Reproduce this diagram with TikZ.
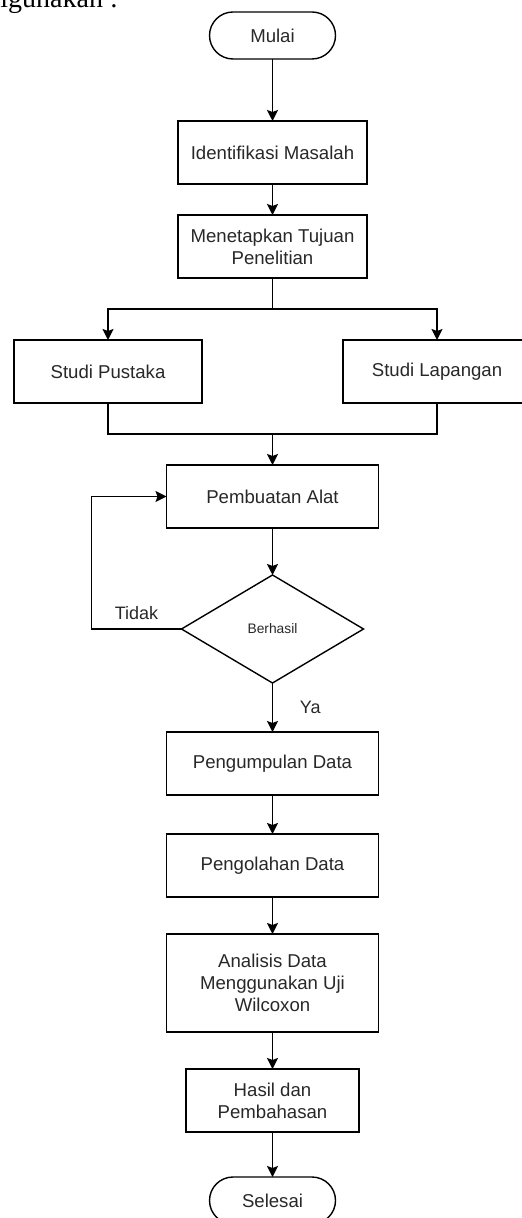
\documentclass[tikz,border=0pt]{standalone}
\usepackage{fontspec}
\setmainfont{Liberation Sans}
\newfontfamily\bodyserif{Liberation Serif}
\usetikzlibrary{arrows.meta,positioning,shapes.geometric,calc}
\definecolor{InkGray}{RGB}{40,40,40}
\tikzset{
  process/.style={draw=black,line width=0.8pt,fill=white,text=InkGray,
    minimum width=94.5pt,minimum height=31.5pt,align=center,outer sep=0pt,
    font=\fontsize{9.3}{11}\selectfont},
  terminal/.style={draw=black,line width=0.7pt,rounded corners=11.75pt,
    text=InkGray,minimum width=63pt,minimum height=23.5pt,outer sep=0pt,
    font=\fontsize{9.3}{11}\selectfont},
  decision/.style={draw=black,line width=0.7pt,diamond,aspect=1.685,
    minimum width=91pt,minimum height=54pt,inner sep=0pt,outer sep=0pt,
    text=InkGray,font=\fontsize{6.9}{8}\selectfont},
  note/.style={text=InkGray,font=\fontsize{9}{11}\selectfont},
  arrow/.style={-{Stealth[length=5.5pt,width=5.5pt,inset=1pt]},line width=0.8pt},
  connector/.style={line width=0.8pt}
}
\begin{document}
\begin{tikzpicture}[node distance=0pt]
  \clip (0,0) rectangle (261pt,-609pt);
  \node[anchor=base west,inner sep=0pt,font=\bodyserif\fontsize{14}{16}\selectfont]
    (intro) at (-7pt,-4pt) {digunakan :};
  \node[terminal] (mulai) at (136.25pt,-17.75pt) {Mulai};
  \node[process,below=31pt of mulai] (identifikasi) {Identifikasi Masalah};
  \node[process,below=15.5pt of identifikasi] (tujuan) {Menetapkan Tujuan\\Penelitian};
  \node[process,minimum width=94pt,below=31pt of tujuan,xshift=-82.25pt] (pustaka) {Studi Pustaka};
  \node[process,minimum width=94pt,below=31pt of tujuan,xshift=82.25pt] (lapangan) {Studi Lapangan};
  \node[process,minimum width=106pt,below=93.5pt of tujuan] (pembuatan) {Pembuatan Alat};
  \node[decision,below=23.5pt of pembuatan] (cek) {Berhasil};
  \node[process,minimum width=106pt,below=24.5pt of cek] (pengumpulan) {Pengumpulan Data};
  \node[process,minimum width=106pt,below=19.5pt of pengumpulan] (pengolahan) {Pengolahan Data};
  \node[process,minimum width=106pt,minimum height=49pt,below=18.5pt of pengolahan]
    (analisis) {Analisis Data\\Menggunakan Uji\\Wilcoxon};
  \node[process,minimum width=86.5pt,below=18.5pt of analisis] (hasil) {Hasil dan\\Pembahasan};
  \node[terminal,below=22.5pt of hasil] (selesai) {Selesai};

  % alur utama
  \draw[arrow] (mulai) -- (identifikasi);
  \draw[arrow] (identifikasi) -- (tujuan);
  \draw[arrow] (tujuan.south) -- ++(0,-15.5pt) -| (pustaka.north);
  \draw[arrow] (tujuan.south) -- ++(0,-15.5pt) -| (lapangan.north);
  \draw[connector] (pustaka.south) -- ++(0,-15.5pt) -| (lapangan.south);
  \coordinate[above=15.5pt of pembuatan] (gabung);
  \draw[arrow] (gabung) -- (pembuatan);
  \draw[arrow] (pembuatan) -- (cek);
  \draw[arrow] (cek.west) -- ++(-45pt,0) node[midway,above=1pt,note] {Tidak} |- (pembuatan.west);
  \draw[arrow] (cek) -- node[right=10pt,note] {Ya} (pengumpulan);
  \draw[arrow] (pengumpulan) -- (pengolahan);
  \draw[arrow] (pengolahan) -- (analisis);
  \draw[arrow] (analisis) -- (hasil);
  \draw[arrow] (hasil) -- (selesai);
\end{tikzpicture}
\end{document}
